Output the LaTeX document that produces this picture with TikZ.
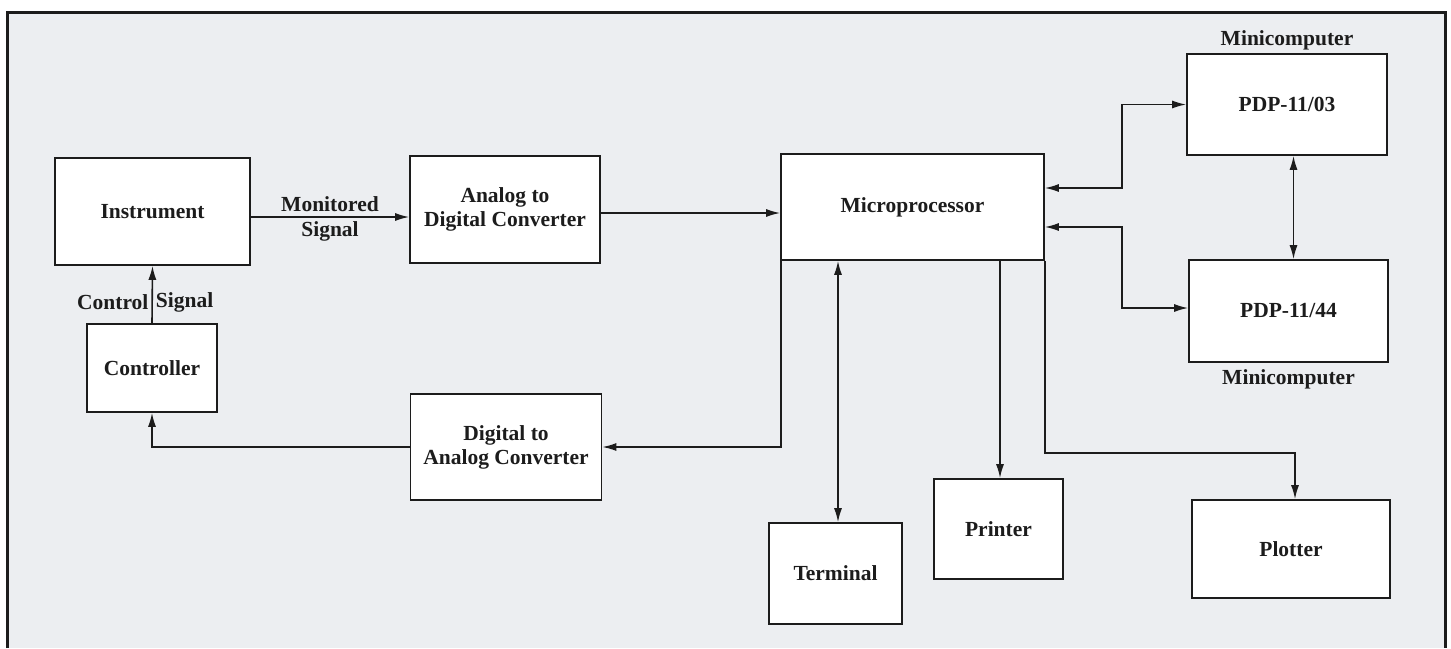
\documentclass[tikz,border=0pt]{standalone}
\usepackage{fontspec}
\setmainfont{Liberation Serif}
\usepackage{xcolor}
\usetikzlibrary{arrows.meta, positioning}
\definecolor{paper}{HTML}{ECEEF1}
\definecolor{ink}{HTML}{1C1C1C}

\begin{document}
\begin{tikzpicture}[
    x=1pt, y=-1pt,
    box/.style    = {rectangle, draw=ink, fill=white, line width=1.6pt,
                     align=center, inner sep=0pt, text=ink,
                     font=\fontsize{21.5}{24}\selectfont\bfseries},
    lbl/.style    = {font=\fontsize{21.5}{24}\selectfont\bfseries, text=ink,
                     inner sep=3pt},
    arr/.style    = {-{Latex[length=14pt, width=8pt]}, line width=1.6pt, draw=ink},
    biarr/.style  = {{Latex[length=14pt, width=8pt]}-{Latex[length=14pt, width=8pt]},
                     line width=1.6pt, draw=ink}
]

%% Canvas and frame
\useasboundingbox (0,0) rectangle (1451,648);
\fill[white] (0,0) rectangle (1451,648);
\fill[paper] (7,12) rectangle (1445,648);
\draw[ink, line width=3pt] (7,648) -- (7,12) -- (1445,12) -- (1445,648);

%% Left column
\node[box, minimum width=195pt, minimum height=107pt] (instr) at (152.5,211.5) {Instrument};
\node[box, minimum width=130pt, minimum height=88pt]  (ctrl)  at (152,368)     {Controller};

%% Converters
\node[box, minimum width=190pt, minimum height=107pt] (adc) at (505,209.5) {Analog to\\Digital Converter};
\node[box, minimum width=191pt, minimum height=106pt] (dac) at (506,447)   {Digital to\\Analog Converter};

%% Microprocessor and peripherals
\node[box, minimum width=263pt, minimum height=106pt] (micro) at (912.5,207) {Microprocessor};
\node[box, minimum width=133pt, minimum height=101pt] (term)  at (835.5,573.5) {Terminal};
\node[box, minimum width=129pt, minimum height=100pt] (prnt)  at (998.5,529)   {Printer};
\node[box, minimum width=198pt, minimum height=98pt]  (plot)  at (1291,549)    {Plotter};

%% Minicomputers
\node[box, minimum width=200pt, minimum height=101pt,
      label={[lbl, label distance=0pt]above:Minicomputer}] (pdpa) at (1287,104.5) {PDP-11/03};
\node[box, minimum width=199pt, minimum height=102pt,
      label={[lbl, label distance=4pt]below:Minicomputer}] (pdpb) at (1288.5,311) {PDP-11/44};

%% Signal path
\draw[arr] ([yshift=-5.5pt]instr.east) -- ([yshift=-5.5pt]instr.east -| adc.west)
    node[lbl, midway, above, inner sep=4pt]{Monitored}
    node[lbl, midway, below, inner sep=4pt]{Signal};
\draw[arr] ([yshift=-3.5pt]adc.east) -- ([yshift=-3.5pt]adc.east -| micro.west);
\draw[arr] (ctrl.north) -- (instr.south)
    node[lbl, pos=0.37, left]{Control}
    node[lbl, pos=0.37, right]{Signal};

%% Feedback path
\draw[arr] ([xshift=1pt]micro.south west) |- (dac.east);
\draw[arr] (dac.west) -| (ctrl.south);

%% Peripherals
\draw[biarr] ([xshift=2.5pt]term.north |- micro.south) -- ([xshift=2.5pt]term.north);
\draw[arr] ([xshift=1.5pt]prnt.north |- micro.south) -- ([xshift=1.5pt]prnt.north);
\draw[arr] (micro.south east) -- ++(0,192) -| ([xshift=4pt]plot.north);

%% Minicomputer links
\draw[biarr] ([yshift=19pt]micro.east) -- ++(77,0) |- (pdpa.west);
\draw[biarr] ([yshift=-20pt]micro.east) -- ++(77,0) |- ([yshift=3pt]pdpb.west);
\draw[biarr] ([xshift=6.5pt]pdpa.south) -- ([xshift=6.5pt]pdpa.south |- pdpb.north);

\end{tikzpicture}
\end{document}
